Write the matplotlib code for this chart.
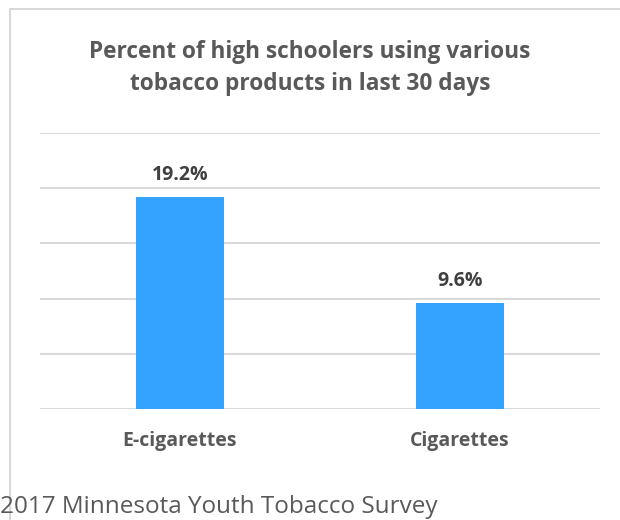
import matplotlib.pyplot as plt
from matplotlib.lines import Line2D

categories = ["E-cigarettes", "Cigarettes"]
values = [19.2, 9.6]
value_labels = ["19.2%", "9.6%"]

plt.rcParams['font.family'] = ['Open Sans', 'DejaVu Sans']

fig = plt.figure(figsize=(6.2, 5.2), dpi=100)

# light border around the chart area (runs off right/bottom edge)
fig.lines.append(Line2D([10 / 620, 10 / 620, 1.0], [0, 1 - 9 / 520, 1 - 9 / 520],
                        transform=fig.transFigure, color='#d9d9d9', linewidth=1.5))

ax = fig.add_axes([40 / 620, (520 - 409) / 520, 560 / 620, (409 - 133) / 520])
x = range(len(categories))
ax.bar(x, values, width=0.315, color='#33a3ff', zorder=3)
ax.set_xlim(-0.5, 1.5)
ax.set_ylim(0, 25)
ax.set_yticks([0, 5, 10, 15, 20, 25])
ax.yaxis.grid(True, color='#d9d9d9', linewidth=1.5, zorder=0)
ax.tick_params(left=False, labelleft=False, bottom=False)
ax.set_xticks(list(x))
ax.set_xticklabels(categories, fontsize=14, fontweight='bold', color='#595959')
ax.tick_params(axis='x', pad=12)
for s in ax.spines.values():
    s.set_visible(False)

for i, (v, lab) in enumerate(zip(values, value_labels)):
    ax.annotate(lab, (i, v), xytext=(0, 9), textcoords='offset points',
                ha='center', va='bottom', fontsize=14, fontweight='bold',
                color='#404040')

fig.text(0.5, 1 - 68 / 520, "Percent of high schoolers using various\ntobacco products in last 30 days",
         ha='center', va='center', fontsize=16.3, fontweight='bold', color='#595959',
         linespacing=1.45)

fig.text(0 / 620, 1 - 507 / 520, "2017 Minnesota Youth Tobacco Survey",
         ha='left', va='center', fontsize=17.5, color='#595959')

fig.savefig("out.png", dpi=100)
